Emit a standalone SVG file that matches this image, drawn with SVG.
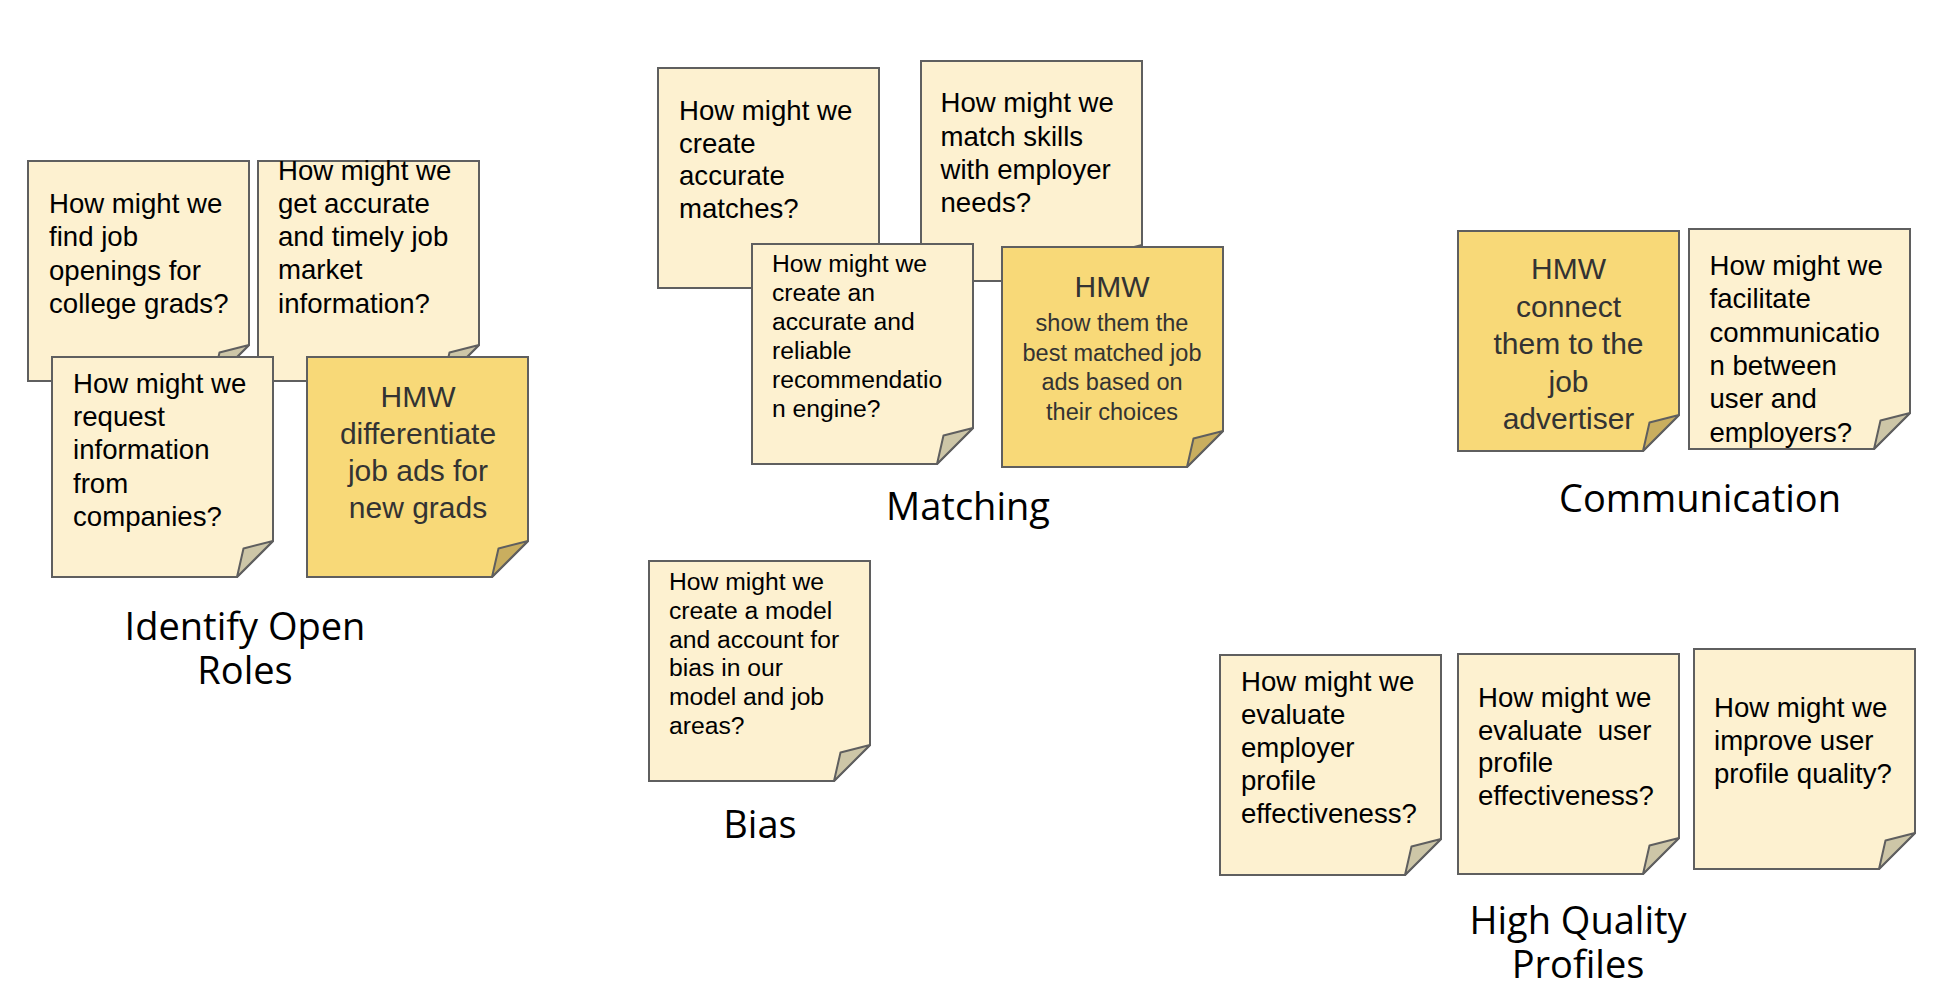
<svg xmlns="http://www.w3.org/2000/svg" width="1952" height="990" viewBox="0 0 1952 990">
<defs>
<style>
.note{stroke:#5f5f5f;stroke-width:2;stroke-linejoin:miter}
.lt{fill:#fdf1d0}
.dk{fill:#f8d978}
.flt{fill:#cdc6a7;stroke:#5f5f5f;stroke-width:2;stroke-linejoin:round}
.fdk{fill:#c9ae5f;stroke:#5f5f5f;stroke-width:2;stroke-linejoin:round}
.t{font-family:"Liberation Sans",Arial,sans-serif;font-size:27.6px;fill:#000}
.ts{font-family:"Liberation Sans",Arial,sans-serif;font-size:24.7px;fill:#000}
.h{font-family:"Liberation Sans",Arial,sans-serif;font-size:30px;fill:#333;text-anchor:middle}
.hs{font-family:"Liberation Sans",Arial,sans-serif;font-size:23.5px;fill:#333;text-anchor:middle}
.lab{font-family:"Open Sans","Noto Sans",sans-serif;font-size:38px;fill:#000;text-anchor:middle}
</style>
<path id="body" d="M0,0 H221 V184 L185,220 H0 Z"/>
<path id="fold" d="M185,220 L191.5,191.5 L221,184 Z"/>
</defs>
<rect width="1952" height="990" fill="#fff"/>

<g id="identify-open-roles">
<g id="n1" transform="translate(28,161)">
<use href="#body" class="note lt"/><use href="#fold" class="flt"/>
<text class="t"><tspan x="21" y="52">How might we</tspan><tspan x="21" y="85.3">find job</tspan><tspan x="21" y="118.6">openings for</tspan><tspan x="21" y="151.9">college grads?</tspan></text>
</g>
<g id="n2" transform="translate(258,161)">
<use href="#body" class="note lt"/><use href="#fold" class="flt"/>
<text class="t"><tspan x="20" y="18.5">How might we</tspan><tspan x="20" y="51.8">get accurate</tspan><tspan x="20" y="85.1">and timely job</tspan><tspan x="20" y="118.4">market</tspan><tspan x="20" y="151.7">information?</tspan></text>
</g>
<g id="n3" transform="translate(52,357)">
<use href="#body" class="note lt"/><use href="#fold" class="flt"/>
<text class="t"><tspan x="21" y="36">How might we</tspan><tspan x="21" y="69.2">request</tspan><tspan x="21" y="102.4">information</tspan><tspan x="21" y="135.6">from</tspan><tspan x="21" y="168.8">companies?</tspan></text>
</g>
<g id="n4" transform="translate(307,357)">
<use href="#body" class="note dk"/><use href="#fold" class="fdk"/>
<text class="h"><tspan x="111" y="50">HMW</tspan><tspan x="111" y="87">differentiate</tspan><tspan x="111" y="124">job ads for</tspan><tspan x="111" y="161">new grads</tspan></text>
</g>
<text id="lbl-identify" class="lab"><tspan x="245" y="640">Identify Open</tspan><tspan x="245" y="684">Roles</tspan></text>
</g>

<g id="matching">
<g id="m1" transform="translate(658,68)">
<use href="#body" class="note lt"/><use href="#fold" class="flt"/>
<text class="t"><tspan x="21" y="52">How might we</tspan><tspan x="21" y="84.5">create</tspan><tspan x="21" y="117">accurate</tspan><tspan x="21" y="149.5">matches?</tspan></text>
</g>
<g id="m2" transform="translate(921,61)">
<use href="#body" class="note lt"/><use href="#fold" class="flt"/>
<text class="t"><tspan x="19.5" y="51.3">How might we</tspan><tspan x="19.5" y="84.6">match skills</tspan><tspan x="19.5" y="117.9">with employer</tspan><tspan x="19.5" y="151.2">needs?</tspan></text>
</g>
<g id="m3" transform="translate(752,244)">
<use href="#body" class="note lt"/><use href="#fold" class="flt"/>
<text class="ts"><tspan x="20" y="27.7">How might we</tspan><tspan x="20" y="56.7">create an</tspan><tspan x="20" y="85.7">accurate and</tspan><tspan x="20" y="114.7">reliable</tspan><tspan x="20" y="143.7">recommendatio</tspan><tspan x="20" y="172.7">n engine?</tspan></text>
</g>
<g id="m4" transform="translate(1002,247)">
<use href="#body" class="note dk"/><use href="#fold" class="fdk"/>
<text class="h" x="110" y="49.7">HMW</text>
<text class="hs"><tspan x="110" y="84">show them the</tspan><tspan x="110" y="113.5">best matched job</tspan><tspan x="110" y="143">ads based on</tspan><tspan x="110" y="172.5">their choices</tspan></text>
</g>
<text id="lbl-matching" class="lab" x="968" y="520">Matching</text>
</g>

<g id="communication">
<g id="c1" transform="translate(1458,231)">
<use href="#body" class="note dk"/><use href="#fold" class="fdk"/>
<text class="h"><tspan x="110.5" y="48.3">HMW</tspan><tspan x="110.5" y="85.8">connect</tspan><tspan x="110.5" y="123.3">them to the</tspan><tspan x="110.5" y="160.8">job</tspan><tspan x="110.5" y="198.3">advertiser</tspan></text>
</g>
<g id="c2" transform="translate(1689,229)">
<use href="#body" class="note lt"/><use href="#fold" class="flt"/>
<text class="t"><tspan x="20.5" y="46">How might we</tspan><tspan x="20.5" y="79.3">facilitate</tspan><tspan x="20.5" y="112.6">communicatio</tspan><tspan x="20.5" y="145.9">n between</tspan><tspan x="20.5" y="179.2">user and</tspan><tspan x="20.5" y="212.5">employers?</tspan></text>
</g>
<text id="lbl-communication" class="lab" x="1700" y="512">Communication</text>
</g>

<g id="bias">
<g id="b1" transform="translate(649,561)">
<use href="#body" class="note lt"/><use href="#fold" class="flt"/>
<text class="ts"><tspan x="20" y="29">How might we</tspan><tspan x="20" y="57.8">create a model</tspan><tspan x="20" y="86.6">and account for</tspan><tspan x="20" y="115.4">bias in our</tspan><tspan x="20" y="144.2">model and job</tspan><tspan x="20" y="173">areas?</tspan></text>
</g>
<text id="lbl-bias" class="lab" x="760" y="838">Bias</text>
</g>

<g id="high-quality-profiles">
<g id="p1" transform="translate(1220,655)">
<use href="#body" class="note lt"/><use href="#fold" class="flt"/>
<text class="t"><tspan x="21" y="35.7">How might we</tspan><tspan x="21" y="68.7">evaluate</tspan><tspan x="21" y="101.7">employer</tspan><tspan x="21" y="134.7">profile</tspan><tspan x="21" y="167.7">effectiveness?</tspan></text>
</g>
<g id="p2" transform="translate(1458,654)">
<use href="#body" class="note lt"/><use href="#fold" class="flt"/>
<text class="t" xml:space="preserve"><tspan x="20" y="52.7">How might we</tspan><tspan x="20" y="85.5">evaluate  user</tspan><tspan x="20" y="118.3">profile</tspan><tspan x="20" y="151.1">effectiveness?</tspan></text>
</g>
<g id="p3" transform="translate(1694,649)">
<use href="#body" class="note lt"/><use href="#fold" class="flt"/>
<text class="t"><tspan x="20" y="68.3">How might we</tspan><tspan x="20" y="101.3">improve user</tspan><tspan x="20" y="134.3">profile quality?</tspan></text>
</g>
<text id="lbl-hqp" class="lab"><tspan x="1578" y="934">High Quality</tspan><tspan x="1578" y="978">Profiles</tspan></text>
</g>

<g id="connectors"/>
</svg>
